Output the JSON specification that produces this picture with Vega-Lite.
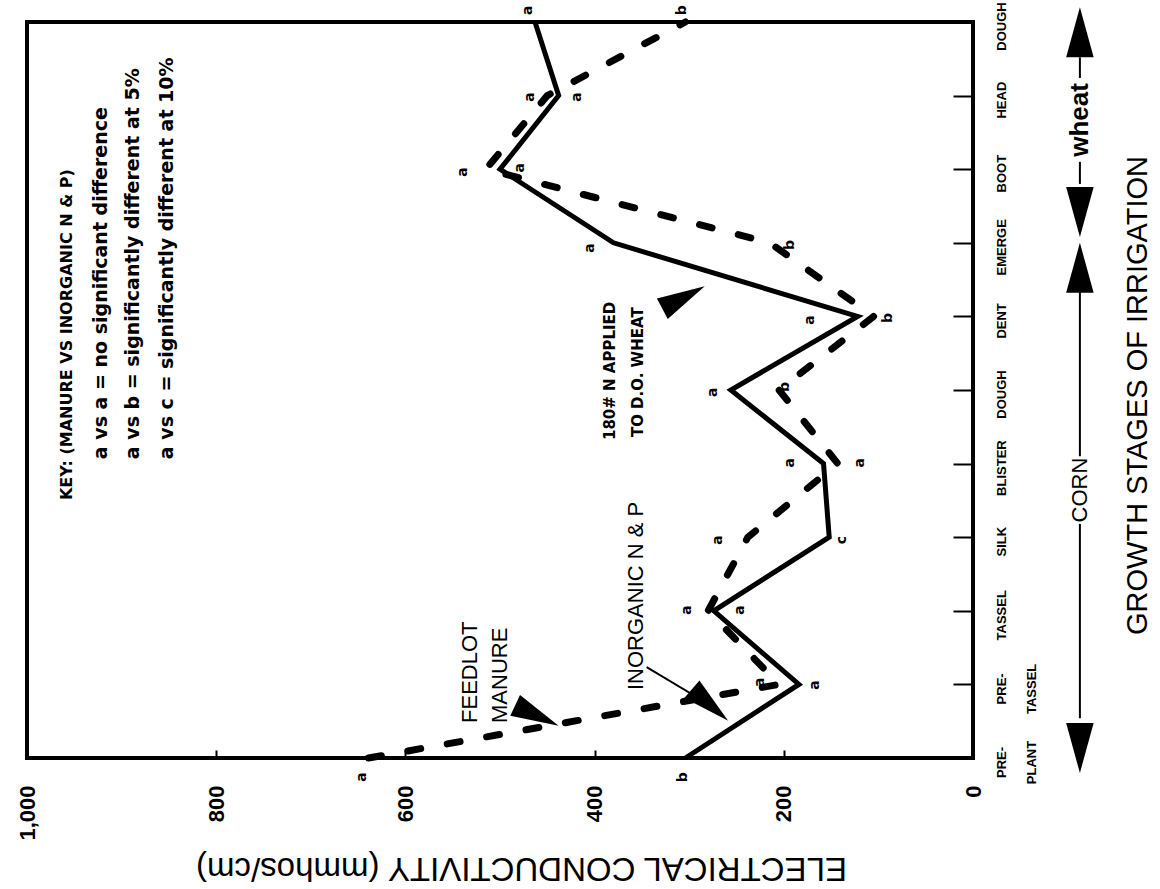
{
  "$schema": "https://vega.github.io/schema/vega-lite/v6.json",
  "width": 946,
  "height": 736,
  "autosize": {"type": "none"},
  "padding": {"left": 27, "top": 22, "right": 187, "bottom": 131},
  "background": "white",
  "view": {"stroke": "black", "strokeWidth": 4},
  "config": {"font": "Liberation Sans"},
  "datasets": {
    "lines": [
      {"series": "Inorganic N & P", "stage": 0, "ec": 304},
      {"series": "Inorganic N & P", "stage": 1, "ec": 184},
      {"series": "Inorganic N & P", "stage": 2, "ec": 274},
      {"series": "Inorganic N & P", "stage": 3, "ec": 152},
      {"series": "Inorganic N & P", "stage": 4, "ec": 158},
      {"series": "Inorganic N & P", "stage": 5, "ec": 256},
      {"series": "Inorganic N & P", "stage": 6, "ec": 122},
      {"series": "Inorganic N & P", "stage": 7, "ec": 380},
      {"series": "Inorganic N & P", "stage": 8, "ec": 500},
      {"series": "Inorganic N & P", "stage": 9, "ec": 438},
      {"series": "Inorganic N & P", "stage": 10, "ec": 463},
      {"series": "Feedlot manure", "stage": 0, "ec": 639},
      {"series": "Feedlot manure", "stage": 1, "ec": 205},
      {"series": "Feedlot manure", "stage": 2, "ec": 280},
      {"series": "Feedlot manure", "stage": 3, "ec": 238},
      {"series": "Feedlot manure", "stage": 4, "ec": 143},
      {"series": "Feedlot manure", "stage": 5, "ec": 205},
      {"series": "Feedlot manure", "stage": 6, "ec": 105},
      {"series": "Feedlot manure", "stage": 7, "ec": 215},
      {"series": "Feedlot manure", "stage": 8, "ec": 515},
      {"series": "Feedlot manure", "stage": 9, "ec": 450},
      {"series": "Feedlot manure", "stage": 10, "ec": 304}
    ],
    "letters": [
      {"ec": 646, "stage": -0.26, "label": "a"},
      {"ec": 307, "stage": -0.26, "label": "b"},
      {"ec": 225, "stage": 1.03, "label": "a"},
      {"ec": 167, "stage": 0.99, "label": "a"},
      {"ec": 302, "stage": 2.01, "label": "a"},
      {"ec": 246, "stage": 2.01, "label": "a"},
      {"ec": 270, "stage": 2.96, "label": "a"},
      {"ec": 139, "stage": 2.96, "label": "c"},
      {"ec": 193, "stage": 4.01, "label": "a"},
      {"ec": 119, "stage": 4.01, "label": "a"},
      {"ec": 275, "stage": 4.97, "label": "a"},
      {"ec": 199, "stage": 5.04, "label": "b"},
      {"ec": 172, "stage": 5.95, "label": "a"},
      {"ec": 90, "stage": 5.98, "label": "b"},
      {"ec": 405, "stage": 6.93, "label": "a"},
      {"ec": 193, "stage": 6.97, "label": "b"},
      {"ec": 539, "stage": 7.96, "label": "a"},
      {"ec": 479, "stage": 8.02, "label": "a"},
      {"ec": 468, "stage": 8.98, "label": "a"},
      {"ec": 419, "stage": 8.98, "label": "a"},
      {"ec": 470, "stage": 10.16, "label": "a"},
      {"ec": 308, "stage": 10.16, "label": "b"}
    ],
    "keyTitle": [
      {"ec": 958, "stage": 3.505, "label": "KEY: (MANURE VS INORGANIC N & P)"}
    ],
    "keyLines": [
      {"ec": 922, "stage": 4.06, "label": "a vs a = no significant difference"},
      {"ec": 888, "stage": 4.06, "label": "a vs b = significantly different at 5%"},
      {"ec": 852, "stage": 4.06, "label": "a vs c = significantly different at 10%"}
    ],
    "callouts": [
      {"ec": 532, "stage": 0.476, "label": "FEEDLOT"},
      {"ec": 500, "stage": 0.476, "label": "MANURE"},
      {"ec": 356, "stage": 0.924, "label": "INORGANIC N & P"}
    ],
    "boldCallouts": [
      {"ec": 384, "stage": 4.32, "label": "180# N APPLIED"},
      {"ec": 354, "stage": 4.36, "label": "TO D.O. WHEAT"}
    ],
    "thinLines": [
      {"ec": 345, "stage": 1.236, "ec2": 278, "stage2": 0.72},
      {"ec": -113, "stage": 9.52, "ec2": -113, "stage2": 9.24},
      {"ec": -113, "stage": 8.10, "ec2": -113, "stage2": 7.80},
      {"ec": -113, "stage": 6.33, "ec2": -113, "stage2": 4.10},
      {"ec": -113, "stage": 3.18, "ec2": -113, "stage2": 0.54}
    ],
    "smallHeads": [
      {"ec": 278, "stage": 0.72, "dir": 131},
      {"ec": 461, "stage": 0.577, "dir": 115},
      {"ec": 306, "stage": 6.257, "dir": 62}
    ],
    "bigHeads": [
      {"ec": -113, "stage": 9.86, "dir": 0},
      {"ec": -113, "stage": 7.42, "dir": 180},
      {"ec": -113, "stage": 6.66, "dir": 0},
      {"ec": -113, "stage": 0.136, "dir": 180}
    ],
    "crops": [
      {"ec": -113, "stage": 3.64, "label": "CORN"}
    ],
    "wheat": [
      {"ec": -113, "stage": 8.67, "label": "wheat"}
    ]
  },
  "encoding": {
    "x": {
      "field": "ec",
      "type": "quantitative",
      "scale": {"domain": [0, 1000], "reverse": true, "nice": false, "zero": false},
      "axis": {
        "orient": "bottom",
        "values": [0, 200, 400, 600, 800, 1000],
        "format": ",.0f",
        "labelAngle": 270,
        "labelAlign": "right",
        "labelBaseline": "middle",
        "labelFontSize": 22,
        "labelFontWeight": "bold",
        "labelColor": "black",
        "labelPadding": 35,
        "labelFlush": false,
        "labelOverlap": false,
        "labelBound": false,
        "tickSize": -8,
        "tickWidth": 2,
        "tickColor": "black",
        "domain": false,
        "grid": false,
        "title": "ELECTRICAL CONDUCTIVITY (mmhos/cm)",
        "titleAngle": 180,
        "titleFontSize": 33,
        "titleFontWeight": "normal",
        "titleColor": "black",
        "titleX": 494,
        "titleY": 109,
        "titleAlign": "center",
        "titleBaseline": "middle"
      }
    },
    "y": {
      "field": "stage",
      "type": "quantitative",
      "scale": {"domain": [0, 10], "nice": false, "zero": false},
      "axis": {
        "orient": "right",
        "values": [0, 1, 2, 3, 4, 5, 6, 7, 8, 9, 10],
        "labelExpr": "split(['PRE-|PLANT','PRE-|TASSEL','TASSEL','SILK','BLISTER','DOUGH','DENT','EMERGE','BOOT','HEAD','DOUGH'][datum.value], '|')",
        "labelAngle": 270,
        "labelAlign": "center",
        "labelBaseline": "top",
        "labelFont": "Liberation Sans",
        "labelFontSize": 13,
        "labelFontWeight": "bold",
        "labelLineHeight": 30,
        "labelColor": "black",
        "labelPadding": 42,
        "labelOffset": 4,
        "labelFlush": false,
        "labelOverlap": false,
        "labelBound": false,
        "tickSize": -20,
        "tickWidth": 2,
        "tickColor": "black",
        "domain": false,
        "grid": false,
        "title": "GROWTH STAGES OF IRRIGATION",
        "titleAngle": 270,
        "titleFontSize": 29,
        "titleFontWeight": "normal",
        "titleColor": "black",
        "titleX": 164,
        "titleY": 373,
        "titleAlign": "center",
        "titleBaseline": "middle"
      }
    }
  },
  "layer": [
    {
      "data": {"name": "lines"},
      "transform": [{"filter": "datum.series === 'Inorganic N & P'"}],
      "mark": {"type": "line", "color": "black", "strokeWidth": 5, "strokeJoin": "miter"},
      "encoding": {"order": {"field": "stage", "type": "quantitative"}}
    },
    {
      "data": {"name": "lines"},
      "transform": [{"filter": "datum.series === 'Feedlot manure'"}],
      "mark": {"type": "line", "color": "black", "strokeWidth": 7, "strokeDash": [13, 27], "strokeCap": "round"},
      "encoding": {"order": {"field": "stage", "type": "quantitative"}}
    },
    {
      "data": {"name": "letters"},
      "mark": {"type": "text", "angle": 270, "align": "center", "baseline": "middle", "font": "DejaVu Sans", "fontWeight": "bold", "fontSize": 14, "color": "black"},
      "encoding": {"text": {"field": "label"}}
    },
    {
      "data": {"name": "keyTitle"},
      "mark": {"type": "text", "angle": 270, "align": "left", "baseline": "middle", "font": "DejaVu Sans", "fontWeight": "bold", "fontSize": 16, "color": "black"},
      "encoding": {"text": {"field": "label"}}
    },
    {
      "data": {"name": "keyLines"},
      "mark": {"type": "text", "angle": 270, "align": "left", "baseline": "middle", "font": "DejaVu Sans", "fontWeight": "bold", "fontSize": 19, "color": "black"},
      "encoding": {"text": {"field": "label"}}
    },
    {
      "data": {"name": "callouts"},
      "mark": {"type": "text", "angle": 270, "align": "left", "baseline": "middle", "font": "Liberation Sans", "fontSize": 22, "color": "black"},
      "encoding": {"text": {"field": "label"}}
    },
    {
      "data": {"name": "boldCallouts"},
      "mark": {"type": "text", "angle": 270, "align": "left", "baseline": "middle", "font": "DejaVu Sans", "fontWeight": "bold", "fontSize": 15, "color": "black"},
      "encoding": {"text": {"field": "label"}}
    },
    {
      "data": {"name": "thinLines"},
      "mark": {"type": "rule", "color": "black", "strokeWidth": 2},
      "encoding": {"x2": {"field": "ec2"}, "y2": {"field": "stage2"}}
    },
    {
      "data": {"name": "smallHeads"},
      "mark": {"type": "point", "shape": "M0,-1L0.48,1L-0.48,1Z", "filled": true, "color": "black", "opacity": 1, "size": 2304},
      "encoding": {"angle": {"field": "dir", "type": "quantitative", "scale": null}}
    },
    {
      "data": {"name": "bigHeads"},
      "mark": {"type": "point", "shape": "M0,-1L0.55,1L-0.55,1Z", "filled": true, "color": "black", "opacity": 1, "size": 2500},
      "encoding": {"angle": {"field": "dir", "type": "quantitative", "scale": null}}
    },
    {
      "data": {"name": "crops"},
      "mark": {"type": "text", "angle": 270, "align": "center", "baseline": "middle", "font": "Liberation Sans", "fontSize": 22, "color": "black"},
      "encoding": {"text": {"field": "label"}}
    },
    {
      "data": {"name": "wheat"},
      "mark": {"type": "text", "angle": 270, "align": "center", "baseline": "middle", "font": "Liberation Sans", "fontWeight": "bold", "fontSize": 26, "color": "black"},
      "encoding": {"text": {"field": "label"}}
    }
  ]
}
